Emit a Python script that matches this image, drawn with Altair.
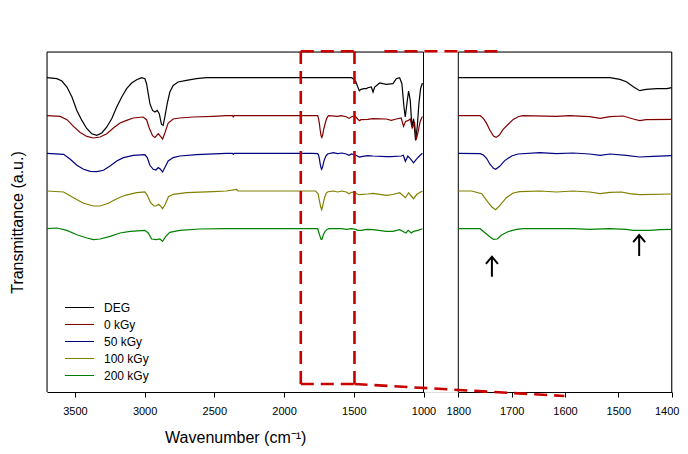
import altair as alt
import pandas as pd

# ---------------- data ----------------
SERIES = ["DEG", "0 kGy", "50 kGy", "100 kGy", "200 kGy"]
COLORS = ["#000000", "#800000", "#000080", "#808000", "#008000"]
# vertical stacking offset of each spectrum (arbitrary transmittance units)
OFFSETS = [314.3, 276.3, 238.7, 201.0, 163.3]

# wavenumbers (cm-1) and band depth below each spectrum's baseline
DEG_WN = [3700, 3629, 3593, 3557, 3521, 3486, 3450, 3414, 3379, 3343,
          3307, 3271, 3236, 3200, 3164, 3129, 3093, 3057, 3021, 2998,
          2986, 2974, 2962, 2943, 2926, 2910, 2895, 2879, 2867, 2855,
          2838, 2819, 2795, 2760, 2700, 2629, 2557, 2414, 2000, 1800,
          1516, 1497, 1485, 1472, 1460, 1448, 1428, 1409, 1400, 1374,
          1362, 1350, 1314, 1267, 1219, 1195, 1171, 1155, 1140, 1131,
          1119, 1107, 1095, 1083, 1071, 1057, 1045, 1033, 1021, 1008]
DEG_D = [0, 1, 3.3, 9.3, 19.3, 32.7, 42.7, 51, 56, 57.7,
         55.3, 49.3, 41, 29.3, 19.3, 11, 5.3, 2, 0, 1,
         6, 16, 26, 32.7, 34.3, 32.7, 36, 46.7, 47.7, 39.3,
         26, 14.3, 7.7, 4.3, 2.7, 1, 0, 0, 0, 0,
         0, 1.7, 4, 9, 13, 11.7, 11, 11, 10, 9.3,
         14.3, 9.3, 5.3, 6.7, 6, 1, 0, 6, 29.3, 39.3,
         26, 13.3, 22.7, 49.3, 41, 62.7, 49.3, 26, 11, 5.3]

K0_WN = [3700, 3605, 3557, 3510, 3462, 3414, 3367, 3319, 3271, 3224,
         3176, 3129, 3081, 3010, 2986, 2967, 2943, 2926, 2902, 2886,
         2871, 2855, 2831, 2795, 2748, 2652, 2510, 2414, 2370, 2364,
         2358, 1800, 1759, 1753, 1747, 1741, 1734, 1729, 1723, 1716,
         1706, 1697, 1688, 1679, 1616, 1591, 1554, 1534, 1516, 1491,
         1472, 1460, 1448, 1400, 1362, 1267, 1231, 1195, 1160, 1143,
         1129, 1112, 1095, 1081, 1064, 1052, 1038, 1024, 1008]
K0_D = [0, 0.7, 4, 10.7, 16.7, 20.7, 22.3, 21.3, 18, 12.3,
        7.3, 4.7, 2.3, 1.3, 4, 12.3, 20, 21.7, 18, 20.7,
        23.3, 17.3, 7.3, 3.3, 2.3, 1.3, 0.7, 0, 0, 1.2,
        0, 0, 0, 2.7, 7.7, 14.3, 20.3, 21.7, 19.3, 13.7,
        8.3, 3.7, 1, 0, 0.7, 0, 1, 2.7, 1, 0.3,
        3.3, 5, 4, 3.7, 3, 3.3, 4.7, 3.3, 2.3, 10.7,
        5.7, 5, 3.3, 12.3, 7.3, 24, 15.7, 5.7, 0.7]

K50_WN = [3700, 3581, 3533, 3486, 3438, 3390, 3343, 3295, 3248, 3200,
          3152, 3081, 2998, 2981, 2962, 2938, 2919, 2902, 2886, 2871,
          2855, 2831, 2795, 2748, 2629, 2414, 2370, 2364, 2358, 1800,
          1759, 1753, 1747, 1741, 1734, 1730, 1723, 1713, 1700, 1688,
          1647, 1616, 1585, 1554, 1534, 1516, 1485, 1460, 1435, 1400,
          1362, 1267, 1231, 1160, 1145, 1130, 1112, 1095, 1071, 1052,
          1029, 1008]
K50_D = [0, 1, 6, 12, 16, 18, 18.3, 17, 12.7, 7.7,
         4.3, 2, 1.3, 4.3, 12, 16, 16.7, 14.3, 16, 18.7,
         14.3, 7.7, 4.3, 2.7, 1.3, 0, 0, 1, 0, 0,
         0.3, 1.7, 5, 10.7, 15, 16, 13.3, 7.3, 2.7, 0.7,
         -0.7, 0.3, -0.3, 0.7, 2, 0.7, 2, 3.7, 3, 2.3,
         2.7, 3.3, 3.3, 2.7, 2, 8, 2.7, 5.3, 9.5, 6,
         2.7, 0]

K100_WN = [3700, 3581, 3510, 3438, 3367, 3319, 3260, 3200, 3140, 3057,
           2998, 2981, 2957, 2933, 2919, 2900, 2886, 2871, 2852, 2829,
           2795, 2700, 2510, 2414, 2340, 2330, 2320, 1800, 1775, 1756,
           1747, 1737, 1730, 1722, 1710, 1697, 1685, 1647, 1616, 1585,
           1554, 1534, 1516, 1494, 1479, 1460, 1400, 1362, 1267, 1219,
           1171, 1130, 1107, 1088, 1071, 1048, 1008]
K100_D = [0, 1, 6.7, 12.3, 15, 15, 12.3, 7.7, 4.3, 1.7,
          1, 4.3, 11.7, 15, 15, 13.3, 15, 17.7, 13.3, 5.7,
          3.3, 1.7, 0.7, 0, -1.5, 0, 0, 0, 0, 2.7,
          9.3, 16, 18.7, 14.3, 6.7, 2, 0.7, 0, 1, 0,
          1, 2.7, 1.3, 1, 2.7, 3.7, 3, 2.3, 4.3, 3.5,
          1.7, 6.7, 1.7, 5, 7.7, 3.3, 0]

K200_WN = [3700, 3629, 3557, 3486, 3414, 3367, 3319, 3248, 3176, 3105,
           2998, 2974, 2950, 2914, 2890, 2871, 2848, 2819, 2748, 2605,
           2414, 1800, 1759, 1750, 1741, 1734, 1727, 1719, 1707, 1691,
           1679, 1585, 1554, 1516, 1485, 1472, 1441, 1422, 1400, 1362,
           1267, 1219, 1171, 1126, 1110, 1088, 1071, 1040, 1008]
K200_D = [0, -0.7, 1.7, 6, 9.3, 11, 10.3, 7.7, 4.3, 2.7,
          1.7, 4.3, 10.3, 11, 10.3, 12.7, 7.7, 3.7, 1.7, 0.3,
          0, 0, 0, 4, 8, 10.7, 10.3, 6.3, 3, 0.7,
          0, 0, 0.7, 0, 0.7, 1.7, 1.7, 1, 0.7, 1,
          2.7, 2.7, 1, 4.3, 1.7, 4.3, 2.7, 1.7, 0]

# axes
LEFT_DOMAIN = [3700, 1000]
RIGHT_DOMAIN = [1800, 1400]
LEFT_TICKS = [3500, 3000, 2500, 2000, 1500, 1000]
RIGHT_TICKS = [1800, 1700, 1600, 1500, 1400]
Y_DOMAIN = [0, 340]

# zoom box (left panel) and its connectors
BOX_WN = [1880, 1495]
BOX_T = [8, 340.7]
CONN_TOP_WN = [1280, 430]
CONN_BOT_WN = [1495, -10]
CONN_BOT_T = [8, -4]

# arrows in the zoomed panel
ARROW_WN = [1737, 1461]
ARROW_TAIL = [115.3, 136.0]
ARROW_TIP = [135.3, 157.0]

# ---------------- tables ----------------
rows = []
for name, off, wns, ds in zip(SERIES, OFFSETS,
                              [DEG_WN, K0_WN, K50_WN, K100_WN, K200_WN],
                              [DEG_D, K0_D, K50_D, K100_D, K200_D]):
    assert len(wns) == len(ds), name
    for w, d in zip(wns, ds):
        rows.append({"series": name, "wn": w, "t": round(off - d, 2)})
df = pd.DataFrame(rows)
df_right = df[(df["wn"] <= RIGHT_DOMAIN[0]) & (df["wn"] >= RIGHT_DOMAIN[1])]

lo, hi = Y_DOMAIN
left_frame = pd.DataFrame({
    "x": [LEFT_DOMAIN[0], LEFT_DOMAIN[1], LEFT_DOMAIN[0]],
    "x2": [LEFT_DOMAIN[0], LEFT_DOMAIN[1], LEFT_DOMAIN[1]],
    "y": [lo, lo, hi], "y2": [hi, hi, hi]})
right_frame = pd.DataFrame({
    "x": [RIGHT_DOMAIN[0], RIGHT_DOMAIN[1], RIGHT_DOMAIN[0]],
    "x2": [RIGHT_DOMAIN[0], RIGHT_DOMAIN[1], RIGHT_DOMAIN[1]],
    "y": [lo, lo, hi], "y2": [hi, hi, hi]})
decor = pd.DataFrame({
    "x": [BOX_WN[0], BOX_WN[1], BOX_WN[0], BOX_WN[0], CONN_TOP_WN[0], CONN_BOT_WN[0]],
    "x2": [BOX_WN[0], BOX_WN[1], BOX_WN[1], BOX_WN[1], CONN_TOP_WN[1], CONN_BOT_WN[1]],
    "y": [BOX_T[0], BOX_T[0], BOX_T[0], BOX_T[1], BOX_T[1], CONN_BOT_T[0]],
    "y2": [BOX_T[1], BOX_T[1], BOX_T[0], BOX_T[1], BOX_T[1], CONN_BOT_T[1]]})
arrows = pd.DataFrame({"x": ARROW_WN, "tail": ARROW_TAIL, "tip": ARROW_TIP})

# ---------------- encodings ----------------
FONT = "Liberation Sans"
LEFT_RANGE = [0, 376.5]
RIGHT_RANGE = [411.3, 624.7]

y_scale = alt.Scale(domain=Y_DOMAIN, nice=False, zero=False)
y_axis = alt.Axis(title="Transmittance (a.u.)", domain=False, ticks=False,
                  labels=False, grid=False, titleX=-30, titleY=170,
                  titleAngle=-90, titleAlign="center", titleBaseline="middle",
                  titleFont=FONT, titleFontSize=16, titleFontWeight="normal",
                  titleColor="black")


def Y(field):
    return alt.Y(f"{field}:Q", scale=y_scale, axis=y_axis)


common_axis = dict(orient="bottom", grid=False, format="d", domainColor="black",
                   domainWidth=1, tickColor="black", tickSize=5, labelPadding=8,
                   labelFont=FONT, labelFontSize=11, labelColor="black",
                   labelFlush=False, labelOverlap=False)
left_scale = alt.Scale(domain=LEFT_DOMAIN, range=LEFT_RANGE, nice=False, zero=False)
right_scale = alt.Scale(domain=RIGHT_DOMAIN, range=RIGHT_RANGE, nice=False, zero=False)
left_axis = alt.Axis(values=LEFT_TICKS, title="Wavenumber (cm⁻¹)", titleFont=FONT,
                     titleFontSize=16, titleFontWeight="normal", titleColor="black",
                     titleY=50, titleBaseline="alphabetic", **common_axis)
right_axis = alt.Axis(values=RIGHT_TICKS, title=None,
                      labelOffset={"condition": {"test": "datum.value === 1400", "value": -5},
                                   "value": 0},
                      **common_axis)

legend = alt.Legend(orient="none", legendX=17, legendY=247, title=None,
                    symbolType="stroke", symbolSize=841, symbolStrokeWidth=1.2,
                    clipHeight=17, rowPadding=0, padding=0, labelOffset=9,
                    labelFont=FONT, labelFontSize=12, labelColor="black")
color = alt.Color("series:N", scale=alt.Scale(domain=SERIES, range=COLORS),
                  sort=SERIES, legend=legend)

# ---------------- left panel ----------------
left_lines = alt.Chart(df).mark_line(strokeWidth=1.2).encode(
    x=alt.X("wn:Q", scale=left_scale, axis=left_axis), y=Y("t"), color=color)
left_box = alt.Chart(left_frame).mark_rule(color="black", strokeWidth=1).encode(
    x=alt.X("x:Q", scale=left_scale, axis=left_axis), x2="x2:Q", y=Y("y"), y2="y2:Q")
left = alt.layer(left_box, left_lines)

# ---------------- right (zoomed) panel ----------------
right_lines = alt.Chart(df_right).mark_line(strokeWidth=1.2).encode(
    x=alt.X("wn:Q", scale=right_scale, axis=right_axis), y=Y("t"), color=color)
right_box = alt.Chart(right_frame).mark_rule(color="black", strokeWidth=1).encode(
    x=alt.X("x:Q", scale=right_scale, axis=right_axis), x2="x2:Q", y=Y("y"), y2="y2:Q")
arrow_shaft = alt.Chart(arrows).mark_rule(color="black", strokeWidth=2).encode(
    x=alt.X("x:Q", scale=right_scale, axis=right_axis), y=Y("tail"), y2="tip:Q")
arrow_head = alt.Chart(arrows).mark_point(
    shape="M-1,1.2L0,0L1,1.2", filled=False, color="black", strokeWidth=2,
    size=144, opacity=1).encode(
    x=alt.X("x:Q", scale=right_scale, axis=right_axis), y=Y("tip"))
right = alt.layer(right_box, right_lines, arrow_shaft, arrow_head)

# ---------------- red dashed zoom box ----------------
decor_scale = alt.Scale(domain=LEFT_DOMAIN, range=LEFT_RANGE, nice=False, zero=False)
red = alt.Chart(decor).mark_rule(color="#C80000", strokeWidth=2.6,
                                 strokeDash=[13, 7], strokeCap="butt").encode(
    x=alt.X("x:Q", scale=decor_scale, axis=None), x2="x2:Q", y=Y("y"), y2="y2:Q")

chart = alt.layer(left, right, red).resolve_scale(x="independent").properties(
    width=625, height=340,
    autosize=alt.AutoSizeParams(type="none"),
    padding={"left": 39, "top": 44, "right": 8, "bottom": 54},
).configure_view(stroke=None).configure(background="white")

chart.save("out.html", embed_options={"renderer": "svg", "actions": False})
